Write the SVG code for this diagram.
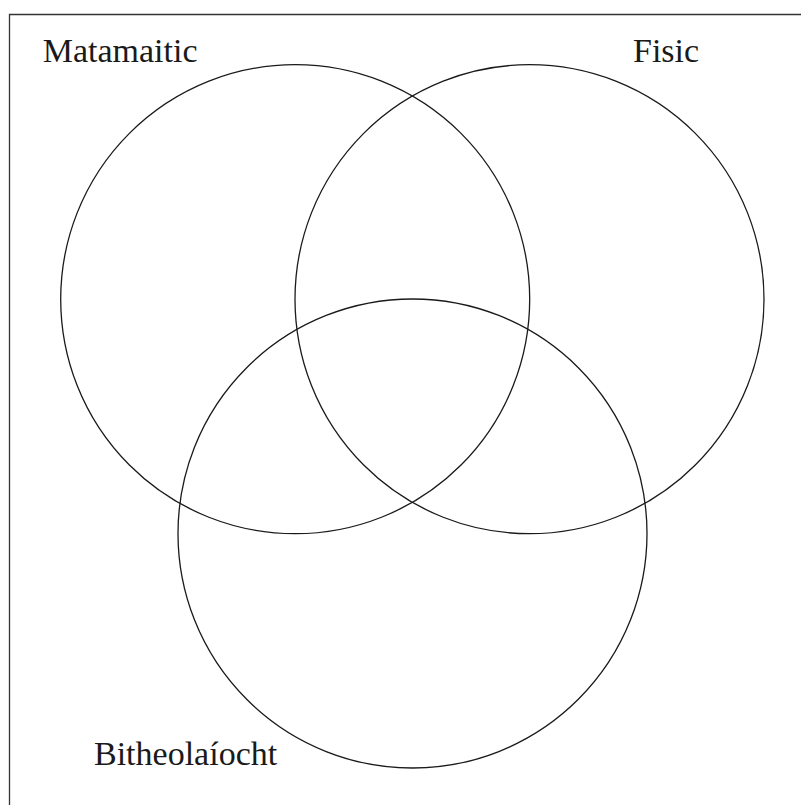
<svg xmlns="http://www.w3.org/2000/svg" width="801" height="805" viewBox="0 0 801 805">
<style>
.c{fill:none;stroke:#1a1a1a;stroke-width:1.3}
.t{font-family:"Liberation Serif","Times New Roman",serif;font-size:34px;fill:#1a1a1a}
</style>
<rect x="0" y="0" width="801" height="805" fill="#fff"/>
<path d="M9.5,805 V14.5 H801" fill="none" stroke="#333" stroke-width="1.3"/>
<g id="matamaitic"><circle class="c" cx="295.2" cy="299.2" r="234.5"/><text class="t" x="42.7" y="62">Matamaitic</text></g>
<g id="fisic"><circle class="c" cx="529.5" cy="299.2" r="234.5"/><text class="t" x="633" y="62">Fisic</text></g>
<g id="bitheolaiocht"><circle class="c" cx="412.5" cy="533.5" r="234.5"/><text class="t" x="94" y="765">Bitheolaíocht</text></g>
</svg>
